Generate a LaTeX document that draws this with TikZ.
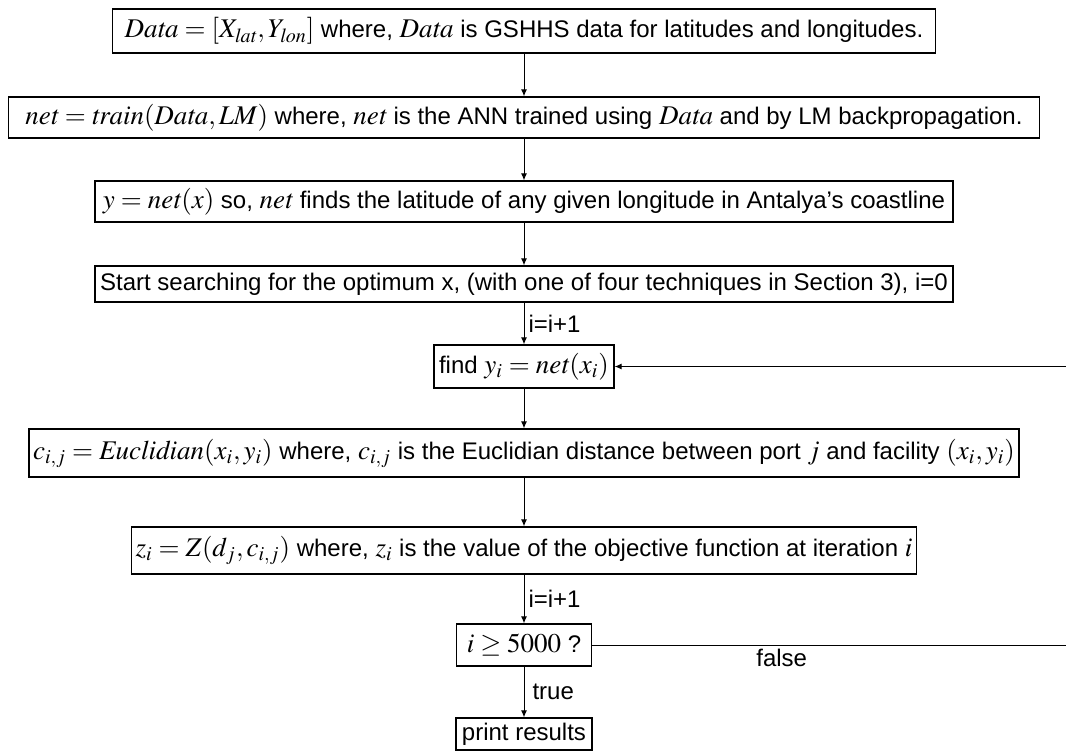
\documentclass[tikz,border=0pt]{standalone}
\usepackage{amsmath}
\usepackage{amssymb}
\usepackage{mathptmx}
\usepackage[no-math]{fontspec}
\setmainfont{Liberation Sans}
\usepackage{tikz}
\usetikzlibrary{arrows.meta}
\DeclareMathSizes{12}{13.5}{10}{7.5}
\newcommand{\mw}[1]{\mathit{#1}}
\begin{document}
\begin{tikzpicture}[x=0.5pt,y=-0.5pt,
    box/.style={draw, line width=0.65pt, inner xsep=2pt, inner ysep=0pt, font=\fontsize{12}{14}\selectfont},
    flow/.style={line width=0.5pt, -{Latex[length=3.5pt,width=3pt]}},
    lbl/.style={font=\fontsize{12}{14}\selectfont, inner sep=1pt}]
            \useasboundingbox (0,0) rectangle (1066,751);
            \node[box, minimum height=22pt, minimum width=411.5pt] (data) at (524,31){$\mw{Data} = [X_{\mw{lat}}, Y_{\mw{lon}}]$ where, $\mw{Data}$ is GSHHS data for latitudes and longitudes.};
            \node[box, minimum height=20.5pt, minimum width=515.5pt] (train) at (524,117.5){$\mw{net} = \mw{train}(\mw{Data}, \mw{LM})$ where, $\mw{net}$ is the ANN trained using $\mw{Data}$ and by LM backpropagation.};
            \node[box, minimum height=20.5pt, minimum width=429pt] (coast) at (524,201.5){$y = \mw{net}(x)$ so, $\mw{net}$ finds the latitude of any given longitude in Antalya’s coastline};
            \node[box, minimum height=18pt, minimum width=429pt] (search) at (524,284){Start searching for the optimum x, (with one of four techniques in Section 3), i=0};
            \node[box, minimum height=21.5pt, minimum width=90pt] (find) at (524,366.5){find $y_i = \mw{net}(x_i)$};
            \node[box, minimum height=24pt, minimum width=492.5pt] (dist) at (524,453){$c_{i,j} = \mw{Euclidian}(x_i, y_i)$ where, $c_{i,j}$ is the Euclidian distance between port $j$ and facility $(x_i, y_i)$};
            \node[box, minimum height=23.5pt, minimum width=389pt] (obj) at (524,550.5){$z_i = Z(d_j, c_{i,j})$ where, $z_i$ is the value of the objective function at iteration $i$};
            \node[box, minimum height=21pt, minimum width=67.5pt] (test) at (524,645){$i \geq 5000$ ?};
            \node[box, minimum height=16pt, minimum width=68pt] (print) at (524,734){print results};
            \coordinate (back) at (1066,366.5);
            \coordinate (loop) at (1066,645);
            \draw[flow] (data) -- (train);
            \draw[flow] (train) -- (coast);
            \draw[flow] (coast) -- (search);
            \draw[flow] (search) -- node[lbl, right, xshift=1pt]{i=i+1} (find);
            \draw[flow] (find) -- (dist);
            \draw[flow] (dist) -- (obj);
            \draw[flow] (obj) -- node[lbl, right, xshift=1pt]{i=i+1} (test);
            \draw[flow] (test) -- node[lbl, right, xshift=3pt]{true} (print);
            \draw[line width=0.5pt] (test) -- node[lbl, below, pos=0.4, yshift=-1pt]{false} (loop);
            \draw[flow] (back) -- (find);
        \end{tikzpicture}
\end{document}
